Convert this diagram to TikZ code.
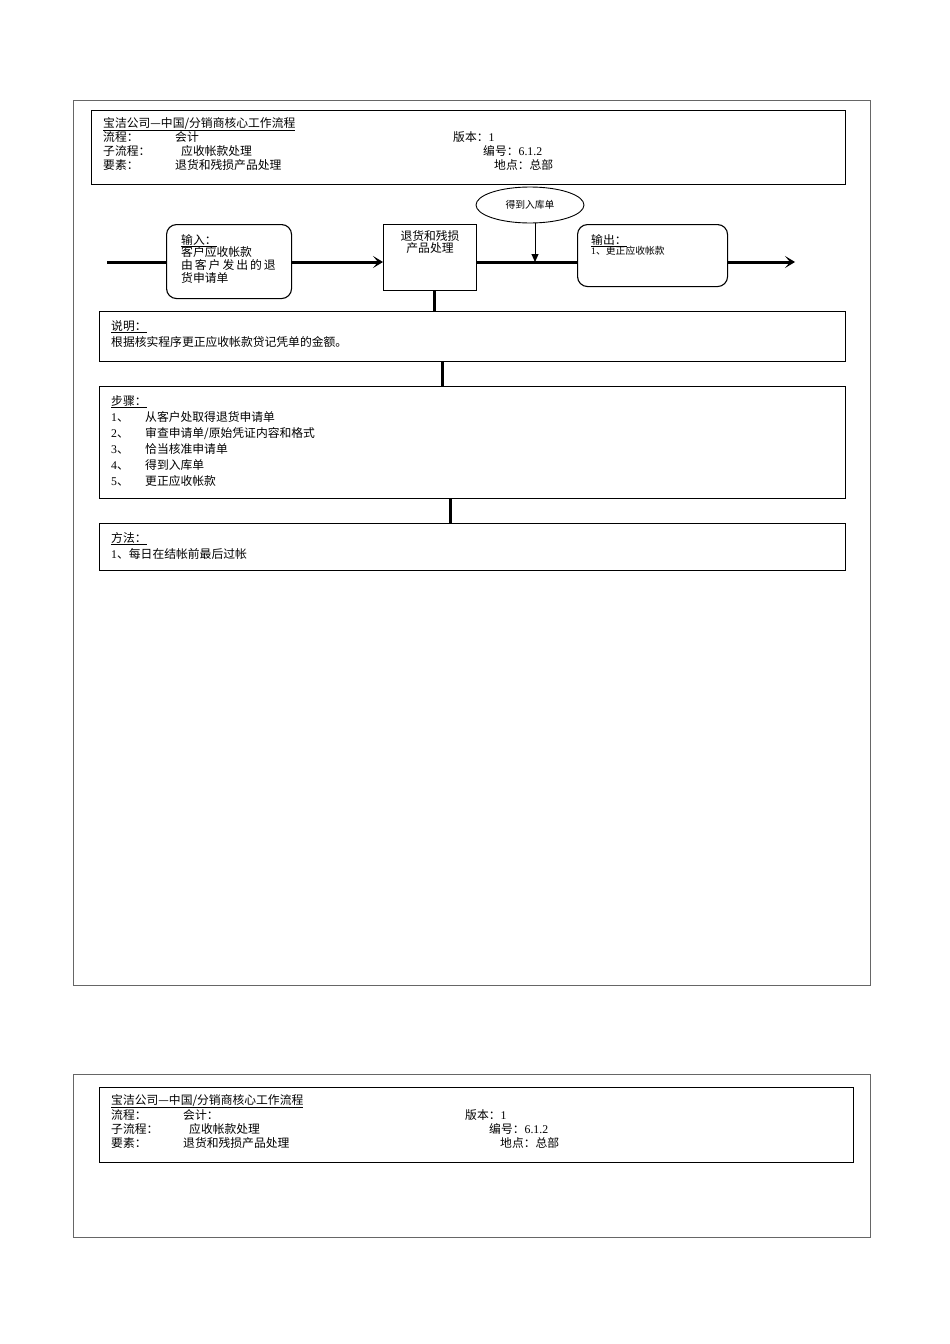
\documentclass[tikz,border=0pt]{standalone}
\usepackage{fontspec}
\setmainfont{Liberation Serif}
\newfontfamily\cjk{Noto Sans CJK SC}
\newfontfamily\lat{Liberation Serif}
\usetikzlibrary{
    arrows.meta,
    positioning,
    shapes.geometric
}

\begin{document}
\begin{tikzpicture}[
    x=1pt, y=-1pt,
    font=\cjk\fontsize{11.8}{13}\selectfont,
    frame/.style={
        draw=black!60,
        line width=0.7pt
    },
    headbox/.style={
        rectangle,
        draw=black,
        line width=1.3pt,
        anchor=north west
    },
    panel/.style={
        rectangle,
        draw=black,
        line width=1.1pt,
        anchor=north west
    },
    roundbox/.style={
        rectangle,
        rounded corners=10pt,
        draw=black,
        line width=1.1pt,
        anchor=north west
    },
    txt/.style={
        anchor=base west,
        inner sep=0pt
    },
    small/.style={
        font=\cjk\fontsize{9.8}{11}\selectfont
    },
    flow/.style={
        line width=3pt
    },
    arrow/.style={
        -{Stealth[length=10pt,width=12pt,inset=5pt]}
    },
    drop/.style={
        -{Triangle[length=8pt,width=7pt]},
        line width=1pt
    }
]
\useasboundingbox (0,0) rectangle (950,1344);

% =========================================================
% Page 1 frame and header
% =========================================================
\node[frame, rectangle, anchor=north west, minimum width=797, minimum height=885, inner sep=0pt] (page1) at (73,100) {};
\node[headbox, minimum width=754, minimum height=74] (head1) at (91,110) {};

\node[txt] (title1) at (103,127) {\underline{宝洁公司—中国/分销商核心工作流程}};
\node[txt] (proclbl1) at (103,141) {流程：};
\node[txt] (procval1) at (175,141) {会计};
\node[txt] (verlbl1) at (453,141) {版本：{\lat 1}};
\node[txt] (sublbl1) at (103,155) {子流程：};
\node[txt] (subval1) at (181,155) {应收帐款处理};
\node[txt] (numlbl1) at (483,155) {编号：{\lat 6.1.2}};
\node[txt] (elemlbl1) at (103,169) {要素：};
\node[txt] (elemval1) at (175,169) {退货和残损产品处理};
\node[txt] (placelbl1) at (494,169) {地点：总部};

% =========================================================
% Flow row
% =========================================================
\coordinate (start) at (107,262);
\coordinate (finish) at (795,262);
\coordinate (joint) at (535,262);

\node[roundbox, minimum width=125, minimum height=74] (inbox) at (166,224) {};
\node[txt] (inhead) at (181,244) {\underline{输入：}};
\node[txt] (inline1) at (181,256) {客户应收帐款};
\node[txt] (inline2) at (181,269) {由\,客\,户\,发\,出\,的\,退};
\node[txt] (inline3) at (181,282) {货申请单};

\node[panel, minimum width=93, minimum height=66] (proc) at (383,224) {};
\node[anchor=base, inner sep=0pt] (procline1) at (430,240) {退货和残损};
\node[anchor=base, inner sep=0pt] (procline2) at (430,252) {产品处理};

\node[ellipse, draw=black, line width=0.9pt, minimum width=108, minimum height=36, small] (receipt) at (530,205) {得到入库单};

\node[roundbox, minimum width=150, minimum height=62] (outbox) at (577,224) {};
\node[txt] (outhead) at (591,244) {\underline{输出：}};
\node[txt, small] (outline1) at (591,254) {{\lat 1}、更正应收帐款};

\draw[flow] (start) -- (start -| inbox.west);
\draw[flow, arrow] (start -| inbox.east) -- (start -| proc.west);
\draw[flow] (start -| proc.east) -- (start -| outbox.west);
\draw[flow, arrow] (start -| outbox.east) -- (finish);
\draw[drop] (receipt.south -| joint) -- (joint);

% =========================================================
% Description, steps, method
% =========================================================
\node[panel, minimum width=746, minimum height=50] (note) at (99,311) {};
\node[txt] (notehead) at (111,330) {\underline{说明：}};
\node[txt] (notetext) at (111,346) {根据核实程序更正应收帐款贷记凭单的金额。};

\node[panel, minimum width=746, minimum height=112] (steps) at (99,386) {};
\node[txt] (stepshead) at (111,405) {\underline{步骤：}};
\foreach \i/\t in {1/{从客户处取得退货申请单}, 2/{审查申请单/原始凭证内容和格式}, 3/{恰当核准申请单}, 4/{得到入库单}, 5/{更正应收帐款}} {
    \node[txt] (stepnum\i) at (111,405+16*\i) {{\lat\i}、};
    \node[txt] (steptext\i) at (145,405+16*\i) {\t};
}

\node[panel, minimum width=746, minimum height=47] (method) at (99,523) {};
\node[txt] (methodhead) at (111,542) {\underline{方法：}};
\node[txt] (methodtext) at (111,558) {{\lat 1}、每日在结帐前最后过帐};

\draw[flow] ([xshift=4pt]proc.south) -- ([xshift=4pt]proc.south |- note.north);
\draw[flow] ([xshift=-30pt]note.south) -- ([xshift=-30pt]steps.north);
\draw[flow] ([xshift=-22pt]steps.south) -- ([xshift=-22pt]method.north);

% =========================================================
% Page 2 frame and header
% =========================================================
\node[frame, rectangle, anchor=north west, minimum width=797, minimum height=163, inner sep=0pt] (page2) at (73,1074) {};
\node[headbox, minimum width=754, minimum height=75] (head2) at (99,1087) {};

\node[txt] (title2) at (111,1104) {\underline{宝洁公司—中国/分销商核心工作流程}};
\node[txt] (proclbl2) at (111,1119) {流程：};
\node[txt] (procval2) at (183,1119) {会计：};
\node[txt] (verlbl2) at (465,1119) {版本：{\lat 1}};
\node[txt] (sublbl2) at (111,1133) {子流程：};
\node[txt] (subval2) at (189,1133) {应收帐款处理};
\node[txt] (numlbl2) at (489,1133) {编号：{\lat 6.1.2}};
\node[txt] (elemlbl2) at (111,1147) {要素：};
\node[txt] (elemval2) at (183,1147) {退货和残损产品处理};
\node[txt] (placelbl2) at (500,1147) {地点：总部};

\end{tikzpicture}
\end{document}
